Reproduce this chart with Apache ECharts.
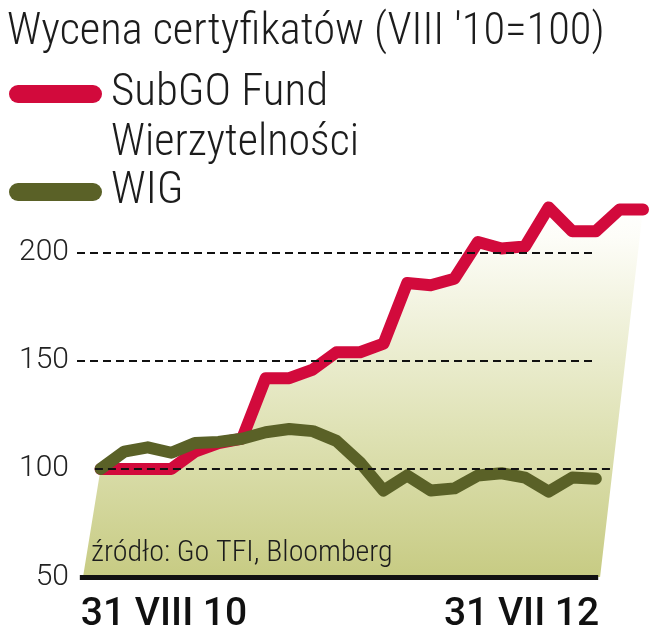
<!DOCTYPE html>
<html>
<head>
<meta charset="utf-8">
<script src="https://cdn.jsdelivr.net/npm/echarts@6/dist/echarts.min.js"></script>
<style>
html,body{margin:0;padding:0;background:#fff;}
#c{width:657px;height:640px;}
</style>
</head>
<body>
<div id="c"></div>
<script>
// ---- data (monthly, 31 VIII 2010 .. 31 VII 2012, VIII'10 = 100) ----
var months = ['VIII 10','IX 10','X 10','XI 10','XII 10','I 11','II 11','III 11','IV 11','V 11','VI 11','VII 11',
              'VIII 11','IX 11','X 11','XI 11','XII 11','I 12','II 12','III 12','IV 12','V 12','VI 12','VII 12'];
var subgo = [100,100,100,100,108,112,114,142,142,146,154,154,158,186,185,188,205,202,203,221,210,210,220,220];
var wig   = [100,108,110,107.5,112,112.5,114,117,118.5,117.5,113,103,90,97,90,91,97,98,96,89.5,96,95.5,null,null];
var yTicks = [50,100,150,200];
var xLabels = ['31 VIII 10','31 VII 12'];
var titleText = 'Wycena certyfikatów (VIII \'10=100)';
var sourceText = 'źródło: Go TFI, Bloomberg';
var nameSubgo = 'SubGO Fund';
var nameSubgo2 = 'Wierzytelności';
var nameWig = 'WIG';

var COND = "'Roboto Condensed','Liberation Sans Narrow','DejaVu Sans Condensed',Roboto,sans-serif";
var RED = '#d20a3c';
var OLIVE = '#5a6127';

var chart = echarts.init(document.getElementById('c'), null, {renderer:'canvas'});

function pairs(arr){ return arr.map(function(v,i){ return [i, v]; }); }

var dashStyle = {color:'#111', width:2.2, type:[8,5]};

var option = {
  animation:false,
  backgroundColor:'#fff',
  title:[
    {text:titleText, left:2, top:5, textStyle:{fontFamily:COND, fontSize:44.5, fontWeight:300, color:'#1c1c1c'}},
    {text:nameSubgo2, left:106, top:117, textStyle:{fontFamily:COND, fontSize:44, fontWeight:300, color:'#1c1c1c'}},
    {text:sourceText, left:86, top:533, textStyle:{fontFamily:COND, fontSize:30, fontWeight:300, color:'#1c1c1c'}}
  ],
  legend:{
    orient:'vertical', left:4, top:65,
    itemWidth:93, itemHeight:18, itemGap:50,
    icon:'path://M9,0 H84 A9,9 0 0 1 84,18 H9 A9,9 0 0 1 9,0 Z',
    textStyle:{fontFamily:COND, fontSize:45, fontWeight:300, color:'#1c1c1c', lineHeight:48, padding:[0,0,0,4]},
    data:[{name:nameSubgo, itemStyle:{color:RED, borderWidth:0}}, {name:nameWig, itemStyle:{color:OLIVE, borderWidth:0}}],
    selectedMode:false
  },
  grid:{left:77, right:14, top:188, bottom:63, containLabel:false},
  xAxis:{
    type:'value', min:-1, max:23,
    axisLine:{show:false}, axisTick:{show:false}, splitLine:{show:false},
    axisLabel:{
      customValues:[2.69, 17.85],
      formatter:function(v){ return v < 10 ? xLabels[0] : xLabels[1]; },
      fontFamily:'Roboto,sans-serif', fontSize:39, fontWeight:500, color:'#111', margin:19
    }
  },
  yAxis:{
    type:'value', min:50, max:230, interval:50,
    axisLine:{show:false}, axisTick:{show:false}, splitLine:{show:false},
    axisLabel:{
      showMaxLabel:false,
      formatter:function(v){ return yTicks.indexOf(v) >= 0 ? String(v) : ''; },
      fontFamily:'Roboto,sans-serif', fontSize:30, fontWeight:300, color:'#222', margin:8
    }
  },
  series:[
    {
      type:'custom', name:'fill', z:1, silent:true, clip:false,
      data:[[0,100]],
      renderItem:function(params, api){
        var pts = [api.coord([-0.745, 50])];
        subgo.forEach(function(v,i){ pts.push(api.coord([i, v])); });
        pts.push(api.coord([21.18, 50]));
        return {
          type:'polygon',
          shape:{points:pts},
          style:{fill:new echarts.graphic.LinearGradient(0,0,0,1,[
            {offset:0, color:'#ffffff'},
            {offset:0.08, color:'#fdfdf8'},
            {offset:0.6, color:'#dfe2b5'},
            {offset:1, color:'#c7cb83'}
          ])}
        };
      }
    },
    {
      type:'line', name:nameSubgo, z:2, data:pairs(subgo), symbol:'none',
      itemStyle:{color:RED},
      lineStyle:{color:RED, width:12, cap:'round', join:'round'}
    },
    {
      type:'line', name:nameWig, z:3, data:pairs(wig), symbol:'none', connectNulls:false,
      itemStyle:{color:OLIVE},
      lineStyle:{color:OLIVE, width:12, cap:'round', join:'round'}
    },
    {
      type:'line', name:'grid', z:5, data:[], silent:true, clip:false,
      markLine:{
        symbol:['none','none'], silent:true, label:{show:false},
        data:[
          [{coord:[-1, 200], lineStyle:dashStyle},{coord:[20.86, 200]}],
          [{coord:[-1, 150], lineStyle:dashStyle},{coord:[20.86, 150]}],
          [{coord:[-0.24, 100], lineStyle:dashStyle},{coord:[21.6, 100]}],
          [{coord:[-0.88, 50], lineStyle:{color:'#111', width:5, type:'solid'}},{coord:[21.1, 50]}]
        ]
      }
    }
  ]
};
chart.setOption(option);
</script>
</body>
</html>
